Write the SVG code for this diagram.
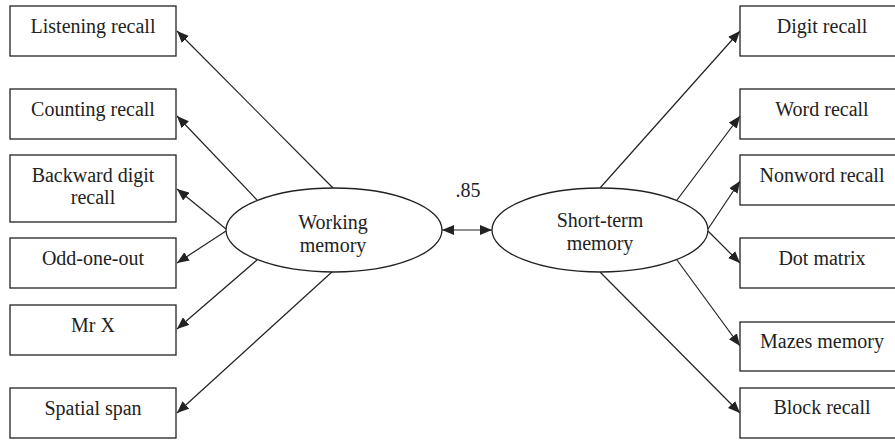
<svg xmlns="http://www.w3.org/2000/svg" width="895" height="440" viewBox="0 0 895 440">
<defs>
<style>
.box{fill:#fff;stroke:#222;stroke-width:1.3}
.ell{fill:#fff;stroke:#222;stroke-width:1.3}
.t{font-family:"Liberation Serif","Times New Roman",serif;font-size:20px;fill:#222;text-anchor:middle}
.c{stroke:#222;stroke-width:1.2;fill:none;marker-end:url(#ah)}
</style>
<marker id="ah" viewBox="0 0 12 10" refX="12" refY="5" markerWidth="12" markerHeight="10" markerUnits="userSpaceOnUse" orient="auto">
<path d="M0,0 L12,5 L0,10 Z" fill="#222"/>
</marker>
<marker id="as" viewBox="0 0 12 10" refX="12" refY="5" markerWidth="12" markerHeight="10" markerUnits="userSpaceOnUse" orient="auto-start-reverse">
<path d="M0,0 L12,5 L0,10 Z" fill="#222"/>
</marker>
</defs>
<rect width="895" height="440" fill="#fff"/>
<g id="connectors">
<line class="c" x1="333" y1="188" x2="177" y2="31"/>
<line class="c" x1="257" y1="200" x2="177" y2="116"/>
<line class="c" x1="226" y1="229" x2="177" y2="189"/>
<line class="c" x1="226" y1="231" x2="177" y2="263"/>
<line class="c" x1="257" y1="260" x2="177" y2="329"/>
<line class="c" x1="333" y1="271" x2="177" y2="413"/>
<line class="c" x1="600" y1="188" x2="740" y2="31"/>
<line class="c" x1="677" y1="200" x2="740" y2="116"/>
<line class="c" x1="708" y1="229" x2="740" y2="181"/>
<line class="c" x1="708" y1="231" x2="740" y2="263"/>
<line class="c" x1="677" y1="260" x2="740" y2="346"/>
<line class="c" x1="600" y1="272" x2="740" y2="413"/>
<line stroke="#222" stroke-width="1.2" x1="442" y1="230" x2="492" y2="230" marker-start="url(#as)" marker-end="url(#ah)"/>
<text class="t" x="468" y="197">.85</text>
</g>
<g id="wm"><ellipse class="ell" cx="334" cy="230" rx="108" ry="42"/><text class="t" x="333" y="229">Working</text><text class="t" x="333" y="252">memory</text></g>
<g id="stm"><ellipse class="ell" cx="600" cy="230" rx="108" ry="42"/><text class="t" x="600" y="227">Short-term</text><text class="t" x="600" y="250">memory</text></g>
<g id="listening"><rect class="box" x="10" y="6" width="166" height="50"/><text class="t" x="93" y="33">Listening recall</text></g>
<g id="counting"><rect class="box" x="10" y="89" width="166" height="50"/><text class="t" x="93" y="116">Counting recall</text></g>
<g id="backward"><rect class="box" x="10" y="155" width="166" height="67"/><text class="t" x="93" y="182">Backward digit</text><text class="t" x="93" y="204">recall</text></g>
<g id="oddoneout"><rect class="box" x="10" y="238" width="166" height="50"/><text class="t" x="93" y="265">Odd-one-out</text></g>
<g id="mrx"><rect class="box" x="10" y="305" width="166" height="50"/><text class="t" x="93" y="332">Mr X</text></g>
<g id="spatial"><rect class="box" x="10" y="388" width="166" height="50"/><text class="t" x="93" y="415">Spatial span</text></g>
<g id="digit"><rect class="box" x="740" y="6" width="166" height="50"/><text class="t" x="822" y="33">Digit recall</text></g>
<g id="word"><rect class="box" x="740" y="89" width="166" height="50"/><text class="t" x="822" y="116">Word recall</text></g>
<g id="nonword"><rect class="box" x="740" y="155" width="166" height="50"/><text class="t" x="822" y="182">Nonword recall</text></g>
<g id="dot"><rect class="box" x="740" y="238" width="166" height="50"/><text class="t" x="822" y="265">Dot matrix</text></g>
<g id="mazes"><rect class="box" x="740" y="322" width="166" height="49"/><text class="t" x="822" y="348">Mazes memory</text></g>
<g id="block"><rect class="box" x="740" y="388" width="166" height="50"/><text class="t" x="822" y="414">Block recall</text></g>
</svg>
